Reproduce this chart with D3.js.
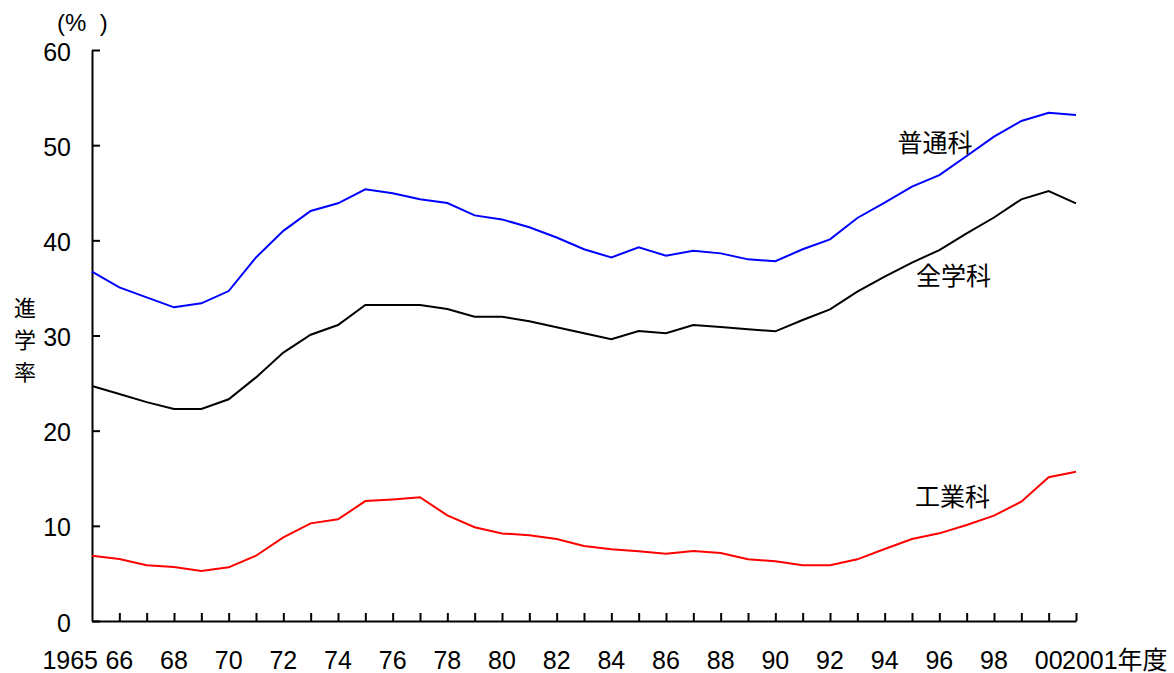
<!DOCTYPE html>
<html><head><meta charset="utf-8">
<script src="https://cdn.jsdelivr.net/npm/d3@7"></script>
<style>
body{margin:0;background:#fff;}
text{font-family:"Liberation Sans",Arial,"Noto Sans CJK JP",sans-serif;fill:#000;}
.cjk{font-family:"Noto Sans CJK JP",sans-serif;}
.pre{white-space:pre;}
</style></head>
<body><svg id="c" width="1174" height="673"></svg>
<script>
const years = d3.range(1965, 2002);
const futsuka = [36.7,35.06,34.0,32.96,33.38,34.67,38.2,41.0,43.08,43.89,45.36,44.94,44.31,43.92,42.62,42.2,41.37,40.3,39.06,38.2,39.26,38.39,38.91,38.63,38.0,37.8,39.06,40.1,42.35,43.96,45.64,46.86,48.86,50.89,52.54,53.41,53.17];
const zengakka = [24.7,23.85,23.0,22.28,22.28,23.3,25.6,28.2,30.08,31.1,33.2,33.2,33.2,32.78,31.98,31.98,31.5,30.86,30.23,29.6,30.47,30.23,31.1,30.89,30.65,30.44,31.63,32.75,34.6,36.18,37.65,38.98,40.73,42.4,44.31,45.18,43.89];
const kogyoka = [6.86,6.51,5.85,5.67,5.25,5.64,6.86,8.79,10.26,10.68,12.6,12.78,13.0,11.1,9.85,9.2,9.0,8.62,7.88,7.53,7.32,7.07,7.36,7.15,6.48,6.27,5.85,5.85,6.48,7.56,8.62,9.21,10.09,11.07,12.54,15.1,15.69];
const seriesNames = ["普通科","全学科","工業科"];
const seriesColors = ["#0000ff","#000000","#ff0000"];
const yTicks = [0,10,20,30,40,50,60];
const xLabelYears = [1965,1966,1968,1970,1972,1974,1976,1978,1980,1982,1984,1986,1988,1990,1992,1994,1996,1998,2000,2001];
const xLabels = ["1965","66","68","70","72","74","76","78","80","82","84","86","88","90","92","94","96","98","00","2001年度"];
const yUnit = "(%  )";
const yTitle = ["進","学","率"];

const svg = d3.select("#c");
const x = d3.scaleLinear().domain([1965,2001]).range([92,1076]);
const y = d3.scaleLinear().domain([0,60]).range([621,50]);

// axes
const ax = d3.axisLeft(y).tickValues(yTicks).tickSizeInner(-8).tickSizeOuter(0).tickFormat("");
const gy = svg.append("g").attr("transform","translate(92,0)").call(ax);
const bx = d3.axisBottom(x).tickValues(d3.range(1966,2002)).tickSizeInner(-8).tickSizeOuter(0).tickFormat("");
const gx = svg.append("g").attr("transform","translate(0,621)").call(bx);
[gy,gx].forEach(g=>{g.selectAll("path,line").attr("stroke","#000").attr("stroke-width",2);});

// y labels
svg.append("g").selectAll("text").data(yTicks).join("text")
  .attr("x",71).attr("y",d=>y(d)+10.5).attr("text-anchor","end")
  .attr("font-size",25).text(d=>d);

// x labels
svg.append("g").selectAll("text").data(xLabelYears).join("text")
  .attr("x",(d,i)=> i===0 ? x(d)+6 : (i===xLabels.length-1 ? x(d)-14 : x(d)))
  .attr("y",668.5)
  .attr("text-anchor",(d,i)=> i===0 ? "end" : (i===xLabels.length-1 ? "start":"middle"))
  .attr("font-size",25).text((d,i)=>xLabels[i]);

svg.append("text").attr("class","pre").attr("x",57).attr("y",31).attr("font-size",24).text(yUnit);
svg.append("g").selectAll("text").data(yTitle).join("text").attr("class","cjk")
  .attr("x",25).attr("y",(d,i)=>316+i*32).attr("text-anchor","middle").attr("font-size",22).text(d=>d);

// lines
const data = [futsuka, zengakka, kogyoka];
const line = d3.line().x((d,i)=>x(years[i])).y(d=>y(d));
svg.append("g").selectAll("path").data(data).join("path")
  .attr("d",line).attr("fill","none").attr("stroke",(d,i)=>seriesColors[i]).attr("stroke-width",2);

// annotations
const annX = [935,953.5,952.5];
const annY = [152,285,506];
svg.append("g").selectAll("text").data(seriesNames).join("text").attr("class","cjk")
  .attr("x",(d,i)=>annX[i]).attr("y",(d,i)=>annY[i]).attr("text-anchor","middle").attr("font-size",25).text(d=>d);
</script></body></html>
